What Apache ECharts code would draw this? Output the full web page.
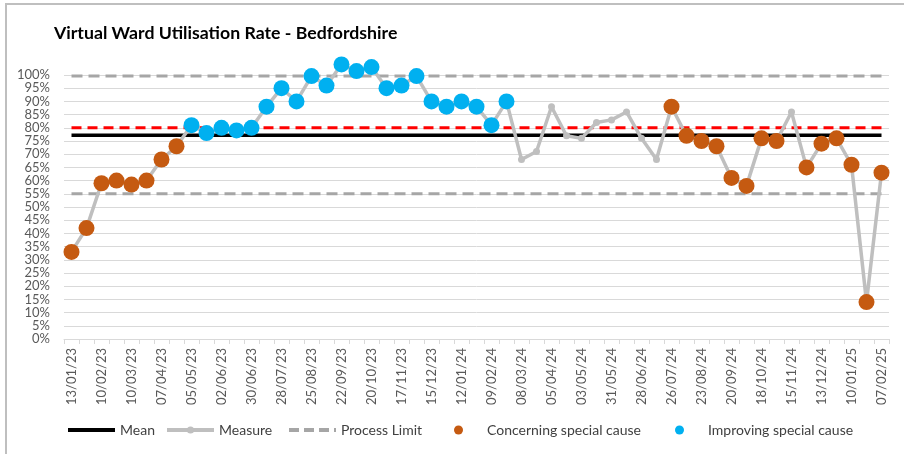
<html>
<head>
<meta charset="utf-8">
<script src="https://cdn.jsdelivr.net/npm/echarts@6/dist/echarts.min.js"></script>
<style>
  body { margin:0; background:#fff; }
  #chart { width:904px; height:454px; }
  /* the grey frame of the original chart, only its top and left edges are visible */
  #frame { position:absolute; left:5px; top:3px; width:899px; height:451px;
           border-left:2px solid #BFBFBF; border-top:2px solid #BFBFBF; pointer-events:none; }
</style>
<title>Virtual Ward Utilisation Rate - Bedfordshire</title>
</head>
<body>
<div id="chart"></div>
<div id="frame"></div>

<script type="text/javascript">
// fortnightly periods
var dates = ['13/01/23','27/01/23','10/02/23','24/02/23','10/03/23','24/03/23','07/04/23','21/04/23',
  '05/05/23','19/05/23','02/06/23','16/06/23','30/06/23','14/07/23','28/07/23','11/08/23',
  '25/08/23','08/09/23','22/09/23','06/10/23','20/10/23','03/11/23','17/11/23','01/12/23',
  '15/12/23','29/12/23','12/01/24','26/01/24','09/02/24','23/02/24','08/03/24','22/03/24',
  '05/04/24','19/04/24','03/05/24','17/05/24','31/05/24','14/06/24','28/06/24','12/07/24',
  '26/07/24','09/08/24','23/08/24','06/09/24','20/09/24','04/10/24','18/10/24','01/11/24',
  '15/11/24','29/11/24','13/12/24','27/12/24','10/01/25','24/01/25','07/02/25'];

// utilisation in %
var measure = [33, 42, 59, 60, 58.5, 60, 68, 73, 81, 78, 80, 79, 80, 88, 95, 90,
  99.6, 96, 104, 101.5, 103, 95, 96, 99.6, 90, 88, 90, 88, 81, 90, 68, 71,
  88, 77, 76, 82, 83, 86, 76, 68, 88, 77, 75, 73, 61, 58, 76, 75,
  86, 65, 74, 76, 66, 14, 63];

// C = concerning special cause, I = improving special cause, - = none
var cause = 'CCCCCCCCIIIIIIIIIIIIIIIIIIIIII----------CCCCCCCC-CCCCCC'.split('');

var meanValue = 77.2;
var targetValue = 80;
var upperLimit = 99.6;
var lowerLimit = 55;

var legendNames = ['Mean', 'Measure', 'Process Limit', 'Concerning special cause', 'Improving special cause'];
var legendLeft = [66, 165, 287, 454, 675];

var FONT = 'Lato, "Liberation Sans", sans-serif';

function flat(v) {
  return dates.map(function () { return v; });
}
function pick(code) {
  return measure.map(function (v, i) { return cause[i] === code ? v : null; });
}

// one legend per item so each sits where the original put it
var legends = legendNames.map(function (name, i) {
  var item = { name: name };
  if (name === 'Mean' || name === 'Process Limit') {
    item.itemStyle = { opacity: 0 };
  }
  if (name === 'Mean' || name === 'Measure') {
    item.lineStyle = { width: 4 };
  }
  if (name === 'Process Limit') {
    item.lineStyle = { width: 4, type: [10, 5] };
  }
  return {
    top: 423, left: legendLeft[i], padding: 0,
    itemWidth: 47, itemHeight: 9,
    textStyle: { fontFamily: FONT, fontSize: 14, color: '#404040' },
    data: [item]
  };
});

var option = {
  animation: false,
  title: {
    text: 'Virtual Ward Utilisation Rate - Bedfordshire',
    left: 49, top: 19,
    textStyle: { fontFamily: FONT, fontSize: 17.7, fontWeight: 'bold', color: '#000' }
  },
  legend: legends,
  grid: { left: 64, right: 15, top: 75, bottom: 115, outerBoundsMode: 'none' },
  xAxis: {
    type: 'category',
    data: dates,
    boundaryGap: true,
    axisLine: { lineStyle: { color: '#D9D9D9', width: 1 } },
    axisTick: { show: true, interval: 0, length: 5, lineStyle: { color: '#D9D9D9' } },
    axisLabel: { interval: 1, rotate: 90, margin: 9, fontFamily: FONT, fontSize: 13, color: '#595959' },
    splitLine: { show: false }
  },
  yAxis: {
    type: 'value',
    min: 0, max: 100, interval: 5,
    axisLine: { show: false },
    axisTick: { show: false },
    axisLabel: { formatter: '{value}%', margin: 14, fontFamily: FONT, fontSize: 13, color: '#595959' },
    splitLine: { lineStyle: { color: '#D9D9D9', width: 1 } }
  },
  series: [
    {
      name: 'Process Limit', type: 'line', data: flat(upperLimit), symbol: 'none', z: 1,
      lineStyle: { color: '#A6A6A6', width: 3, type: [11, 6] }, itemStyle: { color: '#A6A6A6' }
    },
    {
      name: 'Process Limit', type: 'line', data: flat(lowerLimit), symbol: 'none', z: 1,
      lineStyle: { color: '#A6A6A6', width: 3, type: [11, 6] }, itemStyle: { color: '#A6A6A6' }
    },
    {
      name: 'Target', type: 'line', data: flat(targetValue), symbol: 'none', z: 1,
      lineStyle: { color: '#FF0000', width: 3, type: [10, 6] }, itemStyle: { color: '#FF0000' }
    },
    {
      name: 'Mean', type: 'line', data: flat(meanValue), symbol: 'none', z: 1,
      lineStyle: { color: '#000', width: 3.5 }, itemStyle: { color: '#000' }
    },
    {
      name: 'Measure', type: 'line', data: measure, clip: false, z: 2,
      symbol: 'circle', symbolSize: 7,
      lineStyle: { color: '#BFBFBF', width: 3.5 }, itemStyle: { color: '#BFBFBF' }
    },
    {
      name: 'Concerning special cause', type: 'scatter', data: pick('C'), clip: false, z: 5,
      symbolSize: 16, itemStyle: { color: '#C55A11', opacity: 1 }
    },
    {
      name: 'Improving special cause', type: 'scatter', data: pick('I'), clip: false, z: 5,
      symbolSize: 16, itemStyle: { color: '#00B0F0', opacity: 1 }
    }
  ]
};

var myChart = echarts.init(document.getElementById('chart'));
myChart.setOption(option);
</script>
</body>
</html>
